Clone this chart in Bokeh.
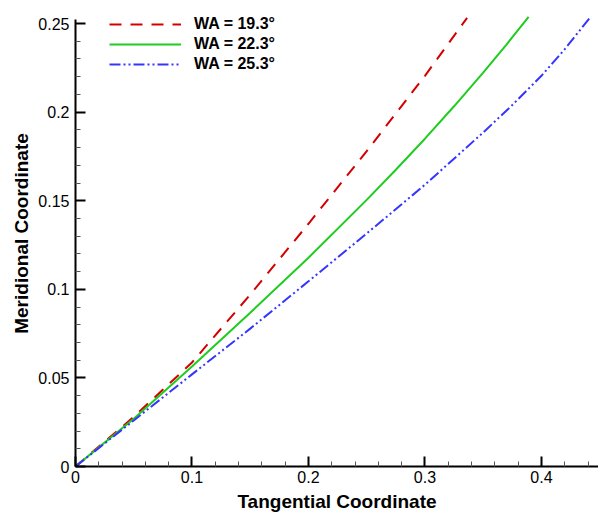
from bokeh.plotting import figure
from bokeh.models import Range1d, FixedTicker, CustomJSTickFormatter, Legend, LegendItem
from bokeh.embed import file_html
from bokeh.resources import INLINE

# --- data ---
x_wa193 = [0.0, 0.05, 0.1, 0.15, 0.2, 0.25, 0.3, 0.3362]
y_wa193 = [0.0, 0.028, 0.0587, 0.097, 0.137, 0.178, 0.2205, 0.2532]

x_wa223 = [0.0, 0.05, 0.1, 0.15, 0.2, 0.25, 0.275, 0.3, 0.325, 0.35, 0.37, 0.389]
y_wa223 = [0.0, 0.027, 0.0565, 0.0868, 0.1178, 0.1505, 0.1675, 0.185, 0.2033, 0.2223, 0.2381, 0.2537]

x_wa253 = [0.0, 0.05, 0.1, 0.15, 0.2, 0.25, 0.3, 0.35, 0.375, 0.4, 0.42, 0.442]
y_wa253 = [0.0, 0.026, 0.052, 0.0778, 0.1045, 0.1315, 0.159, 0.1885, 0.204, 0.2205, 0.2355, 0.2536]

labels = ["WA = 19.3\u00b0", "WA = 22.3\u00b0", "WA = 25.3\u00b0"]

x_ticks = [0, 0.1, 0.2, 0.3, 0.4]
x_minor = [0.02, 0.04, 0.06, 0.08, 0.12, 0.14, 0.16, 0.18, 0.22, 0.24, 0.26, 0.28,
           0.32, 0.34, 0.36, 0.38, 0.42, 0.44]
y_ticks = [0, 0.05, 0.1, 0.15, 0.2, 0.25]
y_minor = [0.01, 0.02, 0.03, 0.04, 0.06, 0.07, 0.08, 0.09, 0.11, 0.12, 0.13, 0.14,
           0.16, 0.17, 0.18, 0.19, 0.21, 0.22, 0.23, 0.24]

FONT = "Liberation Sans"

p = figure(width=598, height=515, output_backend="svg", toolbar_location=None,
           x_range=Range1d(0, 0.449), y_range=Range1d(0, 0.2630),
           min_border_left=75, min_border_right=0, min_border_top=0, min_border_bottom=49)
p.outline_line_color = None
p.xgrid.visible = False
p.ygrid.visible = False
p.background_fill_color = "white"
p.border_fill_color = "white"

r1 = p.line(x_wa193, y_wa193, line_color="#d40000", line_width=2, line_dash="12 9")
r2 = p.line(x_wa223, y_wa223, line_color="#1fcc1f", line_width=2)
r3 = p.line(x_wa253, y_wa253, line_color="#3535ff", line_width=2, line_dash="11 3 2 3 2 3")

fmt = CustomJSTickFormatter(code="return Number(tick.toFixed(3)).toString();")

for ax, ticks, minor in ((p.xaxis[0], x_ticks, x_minor), (p.yaxis[0], y_ticks, y_minor)):
    ax.ticker = FixedTicker(ticks=ticks, minor_ticks=minor)
    ax.formatter = fmt
    ax.axis_line_color = "black"
    ax.axis_line_width = 2
    ax.major_tick_line_color = "black"
    ax.major_tick_line_width = 2
    ax.major_tick_in = 10
    ax.major_tick_out = 0
    ax.minor_tick_line_color = "#555555"
    ax.minor_tick_line_width = 1
    ax.minor_tick_in = 5
    ax.minor_tick_out = 0
    ax.major_label_text_font = FONT
    ax.major_label_text_font_size = "16px"
    ax.major_label_text_color = "black"
    ax.axis_label_text_font = FONT
    ax.axis_label_text_font_size = "19px"
    ax.axis_label_text_font_style = "bold"
    ax.axis_label_text_color = "black"

p.yaxis[0].bounds = (0, 0.2523)
p.xaxis[0].axis_label = "Tangential Coordinate"
p.yaxis[0].axis_label = "Meridional Coordinate"
p.xaxis[0].major_label_standoff = 4
p.yaxis[0].major_label_standoff = 6
p.xaxis[0].axis_label_standoff = 5
p.yaxis[0].axis_label_standoff = 3

legend = Legend(items=[LegendItem(label=labels[0], renderers=[r1]),
                       LegendItem(label=labels[1], renderers=[r2]),
                       LegendItem(label=labels[2], renderers=[r3])],
                location=(34, 392))
legend.background_fill_alpha = 0
legend.border_line_color = None
legend.label_text_font = FONT
legend.label_text_font_size = "16px"
legend.label_text_font_style = "bold"
legend.label_text_color = "black"
legend.glyph_width = 72
legend.glyph_height = 20
legend.label_height = 20
legend.spacing = 0
legend.padding = 2
legend.margin = 0
legend.label_standoff = 13
p.add_layout(legend)

open("out.html", "w").write(file_html(p, INLINE))
